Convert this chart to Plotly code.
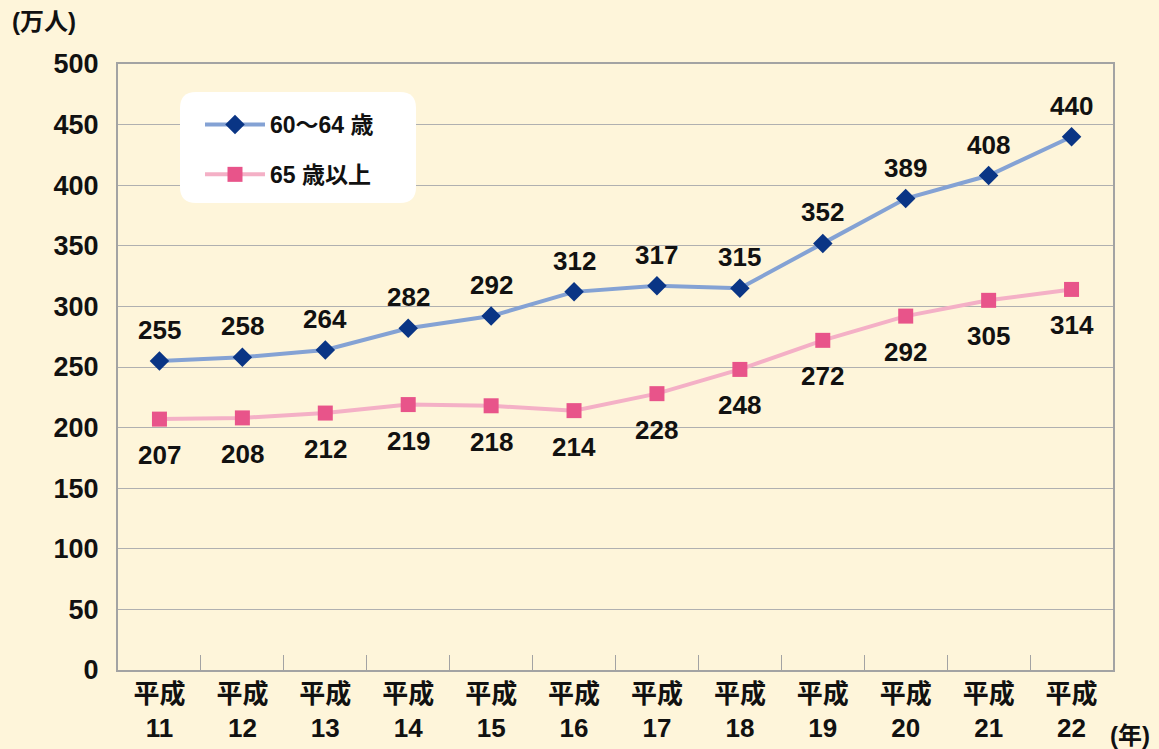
import plotly.graph_objects as go

years = ["11", "12", "13", "14", "15", "16", "17", "18", "19", "20", "21", "22"]
categories = ["平成<br>" + y for y in years]
age_60_64 = [255, 258, 264, 282, 292, 312, 317, 315, 352, 389, 408, 440]
age_65_plus = [207, 208, 212, 219, 218, 214, 228, 248, 272, 292, 305, 314]
y_ticks = [0, 50, 100, 150, 200, 250, 300, 350, 400, 450, 500]

FONT = "Liberation Sans, Noto Sans CJK JP, sans-serif"
BG = "#FEF5DA"
L, R, T, B = 118, 46, 64, 79
PW, PH = 1159 - L - R, 749 - T - B

fig = go.Figure()
fig.add_trace(go.Scatter(
    x=categories, y=age_60_64, name="60～64 歳", legendgroup="a",
    mode="lines+markers",
    line=dict(color="#84A2D4", width=4),
    marker=dict(symbol="diamond", size=15, color="#0A3585"),
))
fig.add_trace(go.Scatter(
    x=categories, y=age_65_plus, name="65 歳以上", legendgroup="b",
    mode="lines+markers",
    line=dict(color="#F4B0C6", width=4),
    marker=dict(symbol="square", size=15, color="#E8548A"),
))

annots = []
for c, v in zip(categories, age_60_64):
    annots.append(dict(x=c, y=v, text=str(v), showarrow=False, yshift=31,
                       yanchor="middle", font=dict(family=FONT, size=26, color="#111111", weight="bold")))
for c, v in zip(categories, age_65_plus):
    annots.append(dict(x=c, y=v, text=str(v), showarrow=False, yshift=-36,
                       yanchor="middle", font=dict(family=FONT, size=26, color="#111111", weight="bold")))

annots.append(dict(text="(万人)", x=(10 - L) / PW, y=(749 - B - 22) / PH, xref="paper", yref="paper",
                   showarrow=False, font=dict(family=FONT, size=24, color="#111111", weight="bold"),
                   xanchor="left", yanchor="middle"))
annots.append(dict(text="(年)", x=(1108 - L) / PW, y=(749 - B - 735) / PH, xref="paper", yref="paper",
                   showarrow=False, font=dict(family=FONT, size=24, color="#111111", weight="bold"),
                   xanchor="left", yanchor="middle"))

# rounded white legend box
x0, x1 = (180 - L) / PW, (416 - L) / PW
y0, y1 = (749 - B - 203) / PH, (749 - B - 92) / PH
rx, ry = 16 / PW, 16 / PH
path = (f"M {x0+rx},{y1} L {x1-rx},{y1} Q {x1},{y1} {x1},{y1-ry} "
        f"L {x1},{y0+ry} Q {x1},{y0} {x1-rx},{y0} L {x0+rx},{y0} "
        f"Q {x0},{y0} {x0},{y0+ry} L {x0},{y1-ry} Q {x0},{y1} {x0+rx},{y1} Z")
fig.add_shape(type="path", path=path, xref="paper", yref="paper",
              fillcolor="white", line=dict(width=0), layer="above")

fig.update_layout(
    width=1159, height=749,
    paper_bgcolor=BG, plot_bgcolor=BG,
    margin=dict(l=L, r=R, t=T, b=B, autoexpand=False),
    font=dict(family=FONT, color="#111111"),
    showlegend=True,
    legend=dict(x=(200 - L) / PW, y=(749 - B - 103) / PH, xanchor="left", yanchor="top",
                bgcolor="rgba(0,0,0,0)", tracegroupgap=17, itemwidth=60,
                font=dict(family=FONT, size=23, color="#111111", weight="bold")),
    annotations=annots,
)

fig.update_xaxes(
    type="category", range=[-0.5, 11.5], automargin=False,
    showgrid=False, showline=True, linecolor="#A3A3A3", linewidth=2, mirror=True,
    ticks="inside", tickson="boundaries", ticklen=15, tickcolor="#A3A3A3", tickwidth=1,
    tickfont=dict(family=FONT, size=26, color="#111111", weight="bold"),
)
fig.update_yaxes(
    range=[0, 500], tickvals=y_ticks, automargin=False,
    showgrid=True, gridcolor="#B0B0B0", gridwidth=1,
    showline=True, linecolor="#A3A3A3", linewidth=2, mirror=True,
    ticks="", zeroline=False, ticklabelstandoff=12,
    tickfont=dict(family=FONT, size=27, color="#111111", weight="bold"),
)

fig.write_html("out.html", config={"displayModeBar": False},
               post_script="document.body.style.margin='0';document.body.style.overflow='hidden';")
